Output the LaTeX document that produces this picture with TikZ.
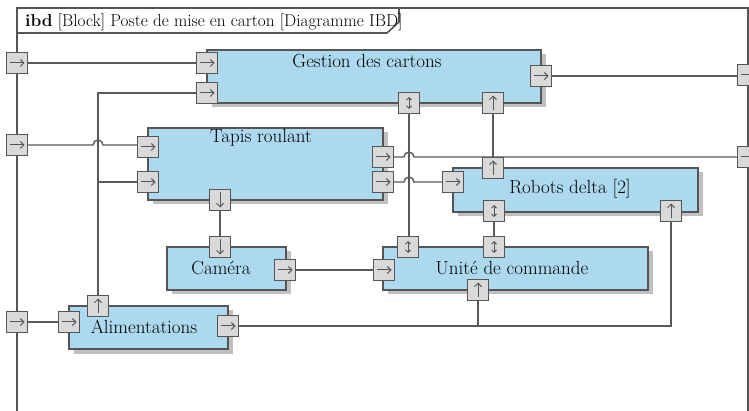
\documentclass[tikz,border=0pt]{standalone}
\usetikzlibrary{arrows.meta}
\definecolor{blockblue}{RGB}{173,217,238}
\definecolor{shadowgray}{RGB}{192,192,192}
\definecolor{edgegray}{RGB}{85,85,85}
\definecolor{portfill}{RGB}{217,217,217}
\definecolor{linegray}{RGB}{90,90,90}
\newcommand\mkblock[5]{%
  \fill[shadowgray] ({#2+4.5},{#3+4.5}) rectangle ({#4+4.5},{#5+4.5});
  \node[block, minimum width={(#4-#2)*1pt}, minimum height={(#5-#3)*1pt}] (#1) at ({(#2+#4)/2},{(#3+#5)/2}) {};}
\newcommand\portR[3]{\node[port] (#1) at (#2,#3) {};
  \draw[parrow] ([xshift=-7.5pt]#1.center) -- ([xshift=7.5pt]#1.center);}
\newcommand\portU[3]{\node[port] (#1) at (#2,#3) {};
  \draw[parrow] ([yshift=-7.5pt]#1.center) -- ([yshift=7.5pt]#1.center);}
\newcommand\portD[3]{\node[port] (#1) at (#2,#3) {};
  \draw[parrow] ([yshift=7.5pt]#1.center) -- ([yshift=-7.5pt]#1.center);}
\newcommand\portB[3]{\node[port] (#1) at (#2,#3) {};
  \draw[bidir] ([yshift=-6pt]#1.center) -- ([yshift=6pt]#1.center);}
\begin{document}
\begin{tikzpicture}[x=1pt,y=-1pt,
  block/.style={draw=edgegray, fill=blockblue, line width=1.4pt, inner sep=0pt, outer sep=0pt},
  port/.style={draw=edgegray, fill=portfill, line width=1.4pt, minimum width=21pt, minimum height=21pt, inner sep=0pt, outer sep=0pt},
  parrow/.style={draw=edgegray, line width=1pt, -{Straight Barb[length=3.5pt,width=7pt]}},
  bidir/.style={draw=edgegray, line width=0.9pt, {Straight Barb[length=2.5pt,width=5pt]}-{Straight Barb[length=2.5pt,width=5pt]}},
  conn/.style={draw=linegray, line width=1.4pt},
  frameline/.style={draw=edgegray, line width=1.6pt},
  lbl/.style={font=\fontsize{19}{22}\selectfont, anchor=base, inner sep=0pt}
]
\useasboundingbox (0,0) rectangle (749,411);
\clip (0,0) rectangle (749,411);
\fill[white] (0,0) rectangle (749,411);

% frame
\draw[frameline] (17,430) -- (17,8) -- (748,8) -- (748,430);
\draw[frameline] (17,33) -- (387,33) -- (399,22) -- (399,8);
\node[anchor=base west, inner sep=0pt, font=\fontsize{17.2}{20}\selectfont] (title) at (25,27)
  {\textbf{ibd} [Block] Poste de mise en carton [Diagramme IBD]};

% blocks
\mkblock{gc}{207}{50}{541}{103}
\mkblock{tr}{148}{128}{383}{200}
\mkblock{cam}{167}{247}{286}{290}
\mkblock{ali}{69}{306}{228}{349}
\mkblock{uc}{383}{247}{648}{290}
\mkblock{rd}{453}{168}{698}{212}

\node[lbl] (gcl) at (367,68) {Gestion des cartons};
\node[lbl] (trl) at (261,143) {Tapis roulant};
\node[lbl] (caml) at (221,275) {Caméra};
\node[lbl] (alil) at (144,334) {Alimentations};
\node[lbl] (ucl) at (512,275) {Unité de commande};
\node[lbl] (rdl) at (570,194) {Robots delta [2]};

% ports
\portR{fL1}{17}{63}
\portR{fL2}{17}{145}
\portR{fL3}{17}{322}
\portR{fR1}{748}{75}
\portR{fR2}{748}{157}

\portR{gcL1}{207}{63}
\portR{gcL2}{207}{93}
\portR{gcR}{541}{76}
\portB{gcB1}{409}{103}
\portU{gcB2}{493}{103}

\portR{trL1}{148}{147}
\portR{trL2}{148}{182}
\portR{trR1}{383}{157}
\portR{trR2}{383}{182}
\portD{trB}{220}{200}

\portD{camT}{220}{247}
\portR{camR}{285}{270}

\portR{aliL}{69}{322}
\portU{aliT}{98}{306}
\portR{aliR}{228}{326}

\portR{ucL}{384}{270}
\portB{ucT1}{408}{247}
\portB{ucT2}{494}{247}
\portU{ucB}{478}{290}

\portR{rdL}{453}{182}
\portU{rdT}{493}{168}
\portB{rdB1}{494}{211}
\portU{rdB2}{671}{211}

% jump points
\coordinate (j1) at (aliT.north |- fL2.east);
\coordinate (j2) at (gcB1.south |- trR1.east);
\coordinate (j3) at (gcB1.south |- trR2.east);

% connectors
\draw[conn] (fL1.east) -- (gcL1.west);
\draw[conn] (fL2.east) -- ([xshift=-5pt]j1) arc[start angle=180, end angle=0, radius=5pt] -- (trL1.west |- fL2.east);
\draw[conn] (aliT.north) |- (gcL2.west);
\draw[conn] (aliT.north |- trL2.west) -- (trL2.west);
\draw[conn] (fL3.east) -- (aliL.west);
\draw[conn] (aliR.east) -| (rdB2.south);
\draw[conn] (ucB.south) -- (ucB.south |- aliR.east);
\draw[conn] (trB.south) -- (camT.north);
\draw[conn] (camR.east) -- (ucL.west);
\draw[conn] (gcB1.south) -- (gcB1.south |- ucT1.north);
\draw[conn] (gcB2.south) -- (rdT.north);
\draw[conn] (rdB1.south) -- (ucT2.north);
\draw[conn] (gcR.east) -- (fR1.west |- gcR.east);
\draw[conn] (trR1.east) -- ([xshift=-5pt]j2) arc[start angle=180, end angle=0, radius=5pt] -- (fR2.west);
\draw[conn] (trR2.east) -- ([xshift=-5pt]j3) arc[start angle=180, end angle=0, radius=5pt] -- (rdL.west);
\end{tikzpicture}
\end{document}
